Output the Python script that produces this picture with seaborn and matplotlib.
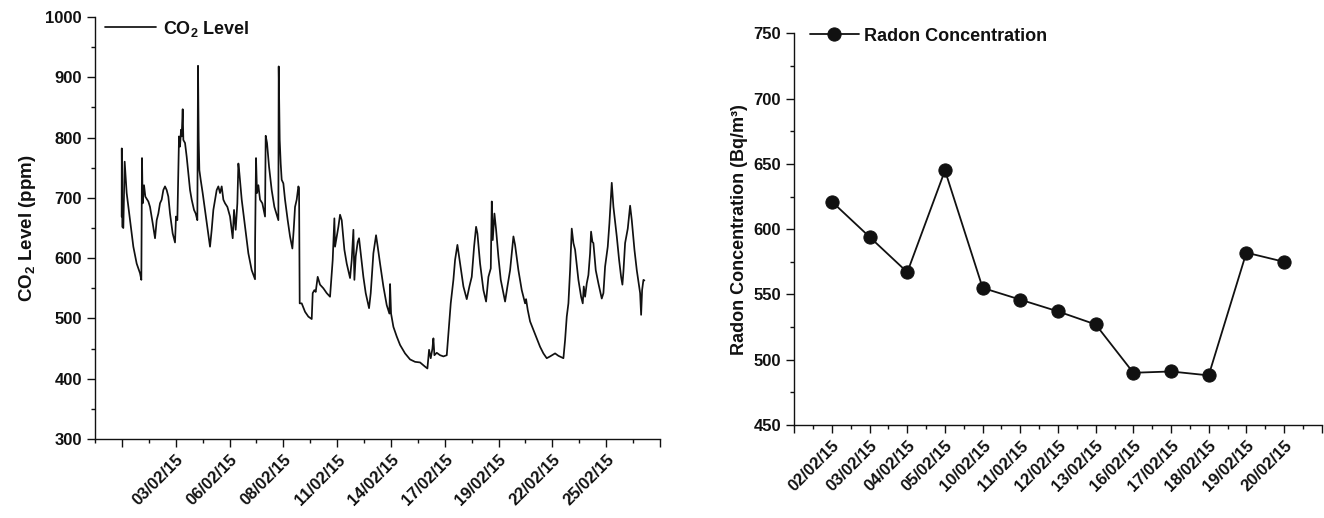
import matplotlib
matplotlib.use("Agg")
import matplotlib.pyplot as plt
from matplotlib.ticker import MultipleLocator, FixedLocator, FixedFormatter
import numpy as np
import pandas as pd
import seaborn as sns

# ---- CO2 record (time axis in day-grid units, concentration in ppm) ----
co2_t = [
    0.991, 0.995, 1.016, 1.053, 1.103, 1.177, 1.301, 1.425, 1.549, 1.673, 1.722, 1.729, 1.747, 1.772,
    1.822, 1.871, 1.983, 2.045, 2.144, 2.231, 2.293, 2.354, 2.416, 2.478, 2.540, 2.602, 2.664, 2.726,
    2.788, 2.887, 2.974, 3.011, 3.061, 3.098, 3.123, 3.160, 3.197, 3.222, 3.259, 3.284, 3.346, 3.408,
    3.470, 3.532, 3.594, 3.680, 3.742, 3.804, 3.829, 3.854, 3.879, 3.928, 4.002, 4.089, 4.176, 4.275,
    4.337, 4.399, 4.461, 4.523, 4.585, 4.647, 4.709, 4.771, 4.833, 4.920, 5.019, 5.118, 5.167, 5.229,
    5.291, 5.329, 5.366, 5.453, 5.577,
    5.700, 5.824, 5.948, 5.950, 5.985, 6.022, 6.072, 6.134, 6.220, 6.320, 6.344, 6.394, 6.468, 6.567,
    6.667, 6.753, 6.815, 6.828, 6.865, 6.902, 6.939, 7.001, 7.063, 7.162, 7.249, 7.336, 7.385, 7.435,
    7.497, 7.559, 7.584, 7.608, 7.683, 7.807, 7.930, 8.055, 8.092, 8.154, 8.203, 8.277, 8.364, 8.488,
    8.612, 8.736, 8.798, 8.835, 8.872, 8.897, 8.922, 8.984, 9.046, 9.108, 9.170, 9.269, 9.356, 9.480,
    9.542, 9.604, 9.641, 9.690, 9.765, 9.814, 9.889, 9.975, 10.062, 10.186, 10.248, 10.347, 10.446, 10.508,
    10.595, 10.719, 10.843, 10.942, 10.967, 11.004, 11.091, 11.215, 11.339, 11.524, 11.710, 11.896,
    12.082, 12.268, 12.355, 12.417, 12.479, 12.541, 12.578, 12.615, 12.702, 12.826, 12.950, 13.074,
    13.136, 13.222, 13.321, 13.383, 13.470, 13.569, 13.693, 13.817, 13.916, 14.003, 14.090, 14.164,
    14.214, 14.313, 14.437, 14.536, 14.623, 14.710, 14.747, 14.784, 14.846, 14.908, 14.994, 15.081,
    15.242, 15.329, 15.428, 15.552,
    15.613, 15.737, 15.861, 15.985, 16.022, 16.084, 16.171, 16.295, 16.418, 16.542, 16.666, 16.790,
    16.914, 17.100, 17.224, 17.410, 17.472, 17.534, 17.596, 17.658, 17.720, 17.782, 17.844, 17.967,
    18.067, 18.129, 18.166, 18.216, 18.277, 18.339, 18.401, 18.438, 18.488, 18.525, 18.612, 18.711,
    18.835, 18.897, 18.959, 19.058, 19.120, 19.207, 19.269, 19.393, 19.480, 19.554, 19.603, 19.641,
    19.703, 19.802, 19.889, 19.951, 20.050, 20.137, 20.261, 20.298, 20.335, 20.384, 20.420,
]
co2_ppm = [
    669, 782, 652, 650, 760, 708, 663, 619, 591, 575, 564, 625, 766, 691,
    721, 702, 694, 685, 658, 633, 663, 674, 691, 697, 713, 719, 713, 702,
    674, 641, 626, 669, 663, 746, 802, 785, 813, 802, 847, 796, 791, 768,
    741, 713, 697, 680, 674, 663, 919, 796, 746, 730, 708, 680, 652, 619,
    647, 680, 697, 713, 719, 708, 719, 697, 691, 685, 669, 633, 680, 647,
    691, 757, 741, 697, 652,
    608, 580, 565, 625, 766, 708, 721, 697, 691, 669, 803, 791, 752, 713,
    685, 672, 663, 918, 796, 757, 730, 724, 697, 663, 636, 616, 647, 685,
    697, 719, 716, 525, 525, 511, 503, 499, 542, 547, 544, 569, 556, 550,
    542, 536, 575, 597, 641, 666, 619, 636, 652, 672, 663, 614, 591, 567,
    597, 647, 564, 603, 627, 633, 603, 569, 542, 517, 542, 608, 638, 619,
    591, 553, 522, 508, 557, 508, 486, 470, 456, 442, 432, 428,
    427, 420, 417, 448, 434, 450, 467, 439, 443, 439, 437, 439,
    475, 525, 564, 597, 622, 591, 553, 532, 553, 569, 619, 652,
    641, 591, 547, 528, 569, 583, 694, 630, 674, 647, 602, 564,
    528, 553, 580, 636,
    622, 580, 547, 525, 532, 514, 495, 481, 467, 453, 442, 434,
    437, 442, 438, 434, 464, 503, 525, 580, 649, 625, 614, 564,
    536, 525, 553, 536, 558, 572, 608, 644, 627, 625, 580, 558,
    533, 542, 586, 619, 658, 725, 685, 636, 597, 569, 556, 578,
    625, 649, 687, 663, 614, 580, 542, 506, 547, 564, 563,
]
co2_tick_labels = ["03/02/15", "06/02/15", "08/02/15", "11/02/15", "14/02/15",
                   "17/02/15", "19/02/15", "22/02/15", "25/02/15"]

# ---- Radon measurements ----
radon_dates = ["02/02/15", "03/02/15", "04/02/15", "05/02/15", "10/02/15", "11/02/15", "12/02/15",
               "13/02/15", "16/02/15", "17/02/15", "18/02/15", "19/02/15", "20/02/15"]
radon_bq = [621, 594, 567, 645, 555, 546, 537, 527, 490, 491, 488, 582, 575]

sns.set_style("ticks")
plt.rcParams["font.family"] = ["Liberation Sans", "DejaVu Sans"]
plt.rcParams["font.weight"] = "bold"
plt.rcParams["mathtext.fontset"] = "custom"
plt.rcParams["mathtext.rm"] = "Liberation Sans:bold"
plt.rcParams["mathtext.it"] = "Liberation Sans:bold"
plt.rcParams["mathtext.bf"] = "Liberation Sans:bold"
plt.rcParams["mathtext.default"] = "rm"

W, H = 1324, 518
fig = plt.figure(figsize=(W / 100, H / 100), dpi=100)
fig.patch.set_facecolor("white")

def px_axes(x0, x1, ytop, ybot):
    return fig.add_axes([x0 / W, 1 - ybot / H, (x1 - x0) / W, (ybot - ytop) / H])

ax1 = px_axes(95, 660, 17, 439)
ax2 = px_axes(794.3, 1321.7, 33.3, 425)

ink = "#111111"

def style_axes(ax):
    sns.despine(ax=ax)
    for s in ("left", "bottom"):
        ax.spines[s].set_linewidth(1.0)
        ax.spines[s].set_color(ink)
    ax.tick_params(which="major", direction="out", length=6, width=1.0, color=ink,
                   labelsize=12, labelcolor=ink)
    ax.tick_params(which="minor", direction="out", length=3, width=1.0, color=ink)
    ax.set_facecolor("white")

def rotate_dates(ax):
    for lab in ax.get_xticklabels():
        lab.set_rotation(45)
        lab.set_ha("right")
        lab.set_rotation_mode("anchor")
        lab.set_fontsize(12)

# ---- Left panel: CO2 ----
co2 = pd.DataFrame({"t": co2_t, "ppm": co2_ppm})
sns.lineplot(data=co2, x="t", y="ppm", ax=ax1, color=ink, linewidth=1.25,
             estimator=None, sort=False, label="CO$_2$ Level")
ax1.set_xlim(0, 21)
ax1.set_ylim(300, 1000)
major_pos = [1 + 2 * i for i in range(len(co2_tick_labels) + 2)]
ax1.xaxis.set_major_locator(FixedLocator(major_pos))
ax1.xaxis.set_major_formatter(FixedFormatter([""] + co2_tick_labels + [""]))
ax1.xaxis.set_minor_locator(MultipleLocator(1))
ax1.yaxis.set_major_locator(MultipleLocator(100))
ax1.yaxis.set_minor_locator(MultipleLocator(50))
style_axes(ax1)
rotate_dates(ax1)
ax1.set_xlabel("")
ax1.set_ylabel("CO$_2$ Level (ppm)", fontsize=13.5, fontweight="bold", color=ink, labelpad=5)
leg1 = ax1.legend(loc="center left", bbox_to_anchor=(0.0177, 0.972), frameon=False,
                  fontsize=13, handlelength=2.8, handletextpad=0.4, borderpad=0, borderaxespad=0)
for t in leg1.get_texts():
    t.set_color(ink)

# ---- Right panel: radon ----
radon = pd.DataFrame({"pos": np.arange(1, len(radon_bq) + 1), "bq": radon_bq})
sns.lineplot(data=radon, x="pos", y="bq", ax=ax2, color=ink, linewidth=1.3,
             marker="o", markersize=9.5, markeredgecolor=ink, markerfacecolor=ink,
             estimator=None, sort=False, label="Radon Concentration")
ax2.set_xlim(0, len(radon_bq) + 1)
ax2.set_ylim(450, 750)
ax2.xaxis.set_major_locator(FixedLocator(list(range(0, len(radon_bq) + 2))))
ax2.xaxis.set_major_formatter(FixedFormatter([""] + radon_dates + [""]))
ax2.xaxis.set_minor_locator(MultipleLocator(0.5))
ax2.yaxis.set_major_locator(MultipleLocator(50))
ax2.yaxis.set_minor_locator(MultipleLocator(25))
style_axes(ax2)
rotate_dates(ax2)
ax2.set_xlabel("")
ax2.set_ylabel("Radon Concentration (Bq/m³)", fontsize=13, fontweight="bold", color=ink, labelpad=4)
leg2 = ax2.legend(loc="center left", bbox_to_anchor=(0.0298, 0.993), frameon=False,
                  fontsize=13, handlelength=2.7, handletextpad=0.3, borderpad=0, borderaxespad=0)
for t in leg2.get_texts():
    t.set_color(ink)

fig.savefig("out.png", dpi=100, facecolor="white")
